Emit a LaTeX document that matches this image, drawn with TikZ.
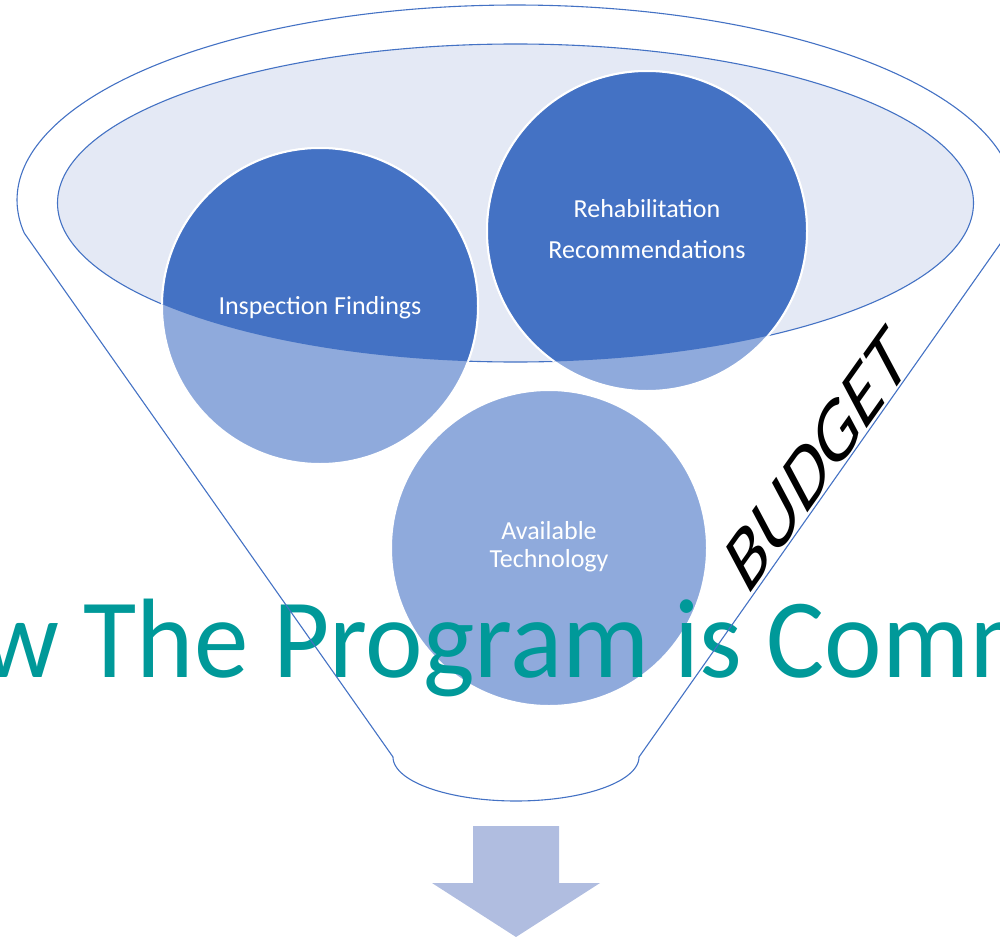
\documentclass[tikz,border=0pt]{standalone}
\usepackage{graphicx}
\usepackage{fontspec}
\setmainfont{Carlito}
\definecolor{accent}{HTML}{4472C4}
\definecolor{accentlight}{HTML}{8FAADC}
\definecolor{topfill}{HTML}{E4E9F5}
\definecolor{arrowfill}{HTML}{B0BDE0}
\definecolor{titleteal}{HTML}{009999}
\begin{document}
\begin{tikzpicture}[x=1pt,y=-1pt,
  outline/.style={draw=accent, line width=1.1pt},
  ball/.style={circle, inner sep=0pt, minimum size=#1, fill=accentlight, draw=white, line width=2pt},
  balltext/.style={anchor=base, inner sep=0pt, text=white, font=\fontsize{26}{26}\selectfont}
]
\path[use as bounding box] (0,0) rectangle (1000,936);
\clip (0,0) rectangle (1000,936);

% funnel mouth (inner ellipse)
\path[fill=topfill, outline] (515.5,203) ellipse [x radius=458, y radius=159];

% circles (light = outside the mouth)
\node[ball=316pt] (insp) at (320,306) {};
\node[ball=320pt] (rehab) at (647,231) {};
\node[ball=316pt] (tech) at (549,548) {};

% darker parts inside the mouth
\begin{scope}
  \clip (515.5,203) ellipse [x radius=458, y radius=159];
  \fill[accent, draw=white, line width=2pt] (insp.center) circle [radius=158];
  \fill[accent, draw=white, line width=2pt] (rehab.center) circle [radius=160];
\end{scope}

% circle texts
\node[balltext] (insptext) at (320,314) {Inspection Findings};
\node[balltext] (rehabtexta) at (647,217) {Rehabilitation};
\node[balltext] (rehabtextb) at (647,258) {Recommendations};
\node[balltext] (techtexta) at (549,539) {Available};
\node[balltext] (techtextb) at (549,567) {Technology};

% title
\node[anchor=base west, inner sep=0pt, text=titleteal, font=\fontsize{113}{113}\selectfont] (title) at (-19,677) {\scalebox{0.965}[1]{w The Program is Comm}};

% funnel outline
\draw[outline, line join=round]
  (24.2,233) -- (393,757)
  -- plot[domain=180:360, samples=80] ({516+123*cos(\x)},{757-44*sin(\x)})
  -- (1007.8,233)
  -- plot[domain=-9.74:189.74, samples=200] ({516+499*cos(\x)},{200-195*sin(\x)})
  -- cycle;

% budget label (slanted, rotated along the funnel side)
\begin{scope}[shift={(829,483)}, rotate=54.6, xslant=0.5]
  \node[transform shape, anchor=base, inner sep=0pt, font=\fontsize{72}{72}\selectfont] (budget) at (0,0) {\scalebox{1.15}[1]{BUDGET}};
\end{scope}

% output arrow
\fill[arrowfill] (473,826) -- (559,826) -- (559,883) -- (600,883) -- (516,937) -- (432,883) -- (473,883) -- cycle;
\end{tikzpicture}
\end{document}
